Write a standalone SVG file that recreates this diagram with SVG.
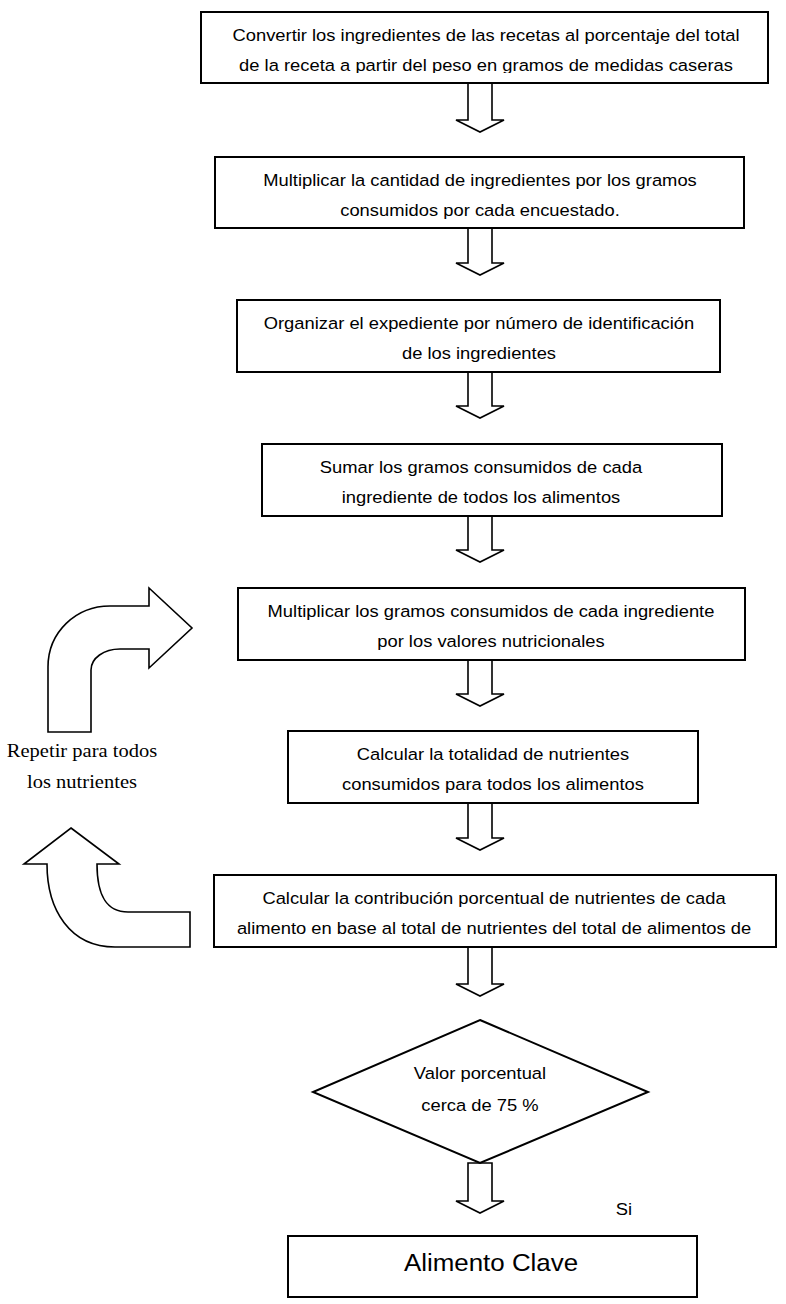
<svg xmlns="http://www.w3.org/2000/svg" width="786" height="1304" viewBox="0 0 786 1304">
<style>
.box{fill:#fff;stroke:#000;stroke-width:2}
.arr{fill:#fff;stroke:#000;stroke-width:1.6;stroke-linejoin:miter}
.t{font-family:"Liberation Sans",Arial,sans-serif;font-size:17px;fill:#000;text-anchor:middle}
.big{font-family:"Liberation Sans",Arial,sans-serif;font-size:24px;fill:#000;text-anchor:middle}
.serif{font-family:"Liberation Serif","Times New Roman",serif;font-size:19px;fill:#000;text-anchor:middle}
</style>
<defs>
<path id="down" d="M-12,0 L12,0 L12,-12 L24,-12 L0,0 Z"/>
<clipPath id="c1"><rect x="201" y="12" width="567" height="61"/></clipPath>
<clipPath id="c3"><rect x="237" y="300" width="483" height="62"/></clipPath>
<clipPath id="c4"><rect x="262" y="444" width="460" height="62"/></clipPath>
<clipPath id="c6"><rect x="288" y="731" width="410" height="62"/></clipPath>
</defs>

<g id="connectors">
<path class="arr" d="M468,83 L492,83 L492,120 L504,120 L480,132 L456,120 L468,120 Z"/>
<path class="arr" d="M468,228 L492,228 L492,263 L504,263 L480,275 L456,263 L468,263 Z"/>
<path class="arr" d="M468,372 L492,372 L492,406 L504,406 L480,418 L456,406 L468,406 Z"/>
<path class="arr" d="M468,516 L492,516 L492,550 L504,550 L480,562 L456,550 L468,550 Z"/>
<path class="arr" d="M468,660 L492,660 L492,694 L504,694 L480,706 L456,694 L468,694 Z"/>
<path class="arr" d="M468,803 L492,803 L492,838 L504,838 L480,850 L456,838 L468,838 Z"/>
<path class="arr" d="M468,947 L492,947 L492,984 L504,984 L480,996 L456,984 L468,984 Z"/>
<path class="arr" d="M468,1163 L492,1163 L492,1201 L504,1201 L480,1213 L456,1201 L468,1201 Z"/>
<path class="arr" d="M48,732 L48,667 C48,632 76,606 110,606 L149,606 L149,588 L192,628 L149,668 L149,649 L120,649 C104,649 91,658 91,670 L91,732 Z"/>
<path class="arr" d="M71,828 L119,864 L97,864 C97,895 106,912 128,912 L190,912 L190,947 L115,947 C70,947 47,910 47,864 L24,864 Z"/>
</g>

<g id="n1">
<rect class="box" x="201" y="12" width="567" height="71"/>
<g clip-path="url(#c1)">
<text class="t" transform="translate(486,41) scale(1.08,1)">Convertir los ingredientes de las recetas al porcentaje del total</text>
<text class="t" transform="translate(486,71) scale(1.08,1)">de la receta a partir del peso en gramos de medidas caseras</text>
</g>
</g>

<g id="n2">
<rect class="box" x="215" y="157" width="529" height="71"/>
<text class="t" transform="translate(480,186) scale(1.08,1)">Multiplicar la cantidad de ingredientes por los gramos</text>
<text class="t" transform="translate(480,216) scale(1.08,1)">consumidos por cada encuestado.</text>
</g>

<g id="n3">
<rect class="box" x="237" y="300" width="483" height="72"/>
<g clip-path="url(#c3)">
<text class="t" transform="translate(479,329) scale(1.08,1)">Organizar el expediente por número de identificación</text>
<text class="t" transform="translate(479,359) scale(1.08,1)">de los ingredientes</text>
</g>
</g>

<g id="n4">
<rect class="box" x="262" y="444" width="460" height="72"/>
<g clip-path="url(#c4)">
<text class="t" transform="translate(481,473) scale(1.08,1)">Sumar los gramos consumidos de cada</text>
<text class="t" transform="translate(481,503) scale(1.08,1)">ingrediente de todos los alimentos</text>
</g>
</g>

<g id="n5">
<rect class="box" x="238" y="588" width="507" height="72"/>
<text class="t" transform="translate(491,617) scale(1.08,1)">Multiplicar los gramos consumidos de cada ingrediente</text>
<text class="t" transform="translate(491,647) scale(1.08,1)">por los valores nutricionales</text>
</g>

<g id="n6">
<rect class="box" x="288" y="731" width="410" height="72"/>
<g clip-path="url(#c6)">
<text class="t" transform="translate(493,760) scale(1.08,1)">Calcular la totalidad de nutrientes</text>
<text class="t" transform="translate(493,790) scale(1.08,1)">consumidos para todos los alimentos</text>
</g>
</g>

<g id="n7">
<rect class="box" x="214" y="875" width="562" height="72"/>
<text class="t" transform="translate(494,904) scale(1.08,1)">Calcular la contribución porcentual de nutrientes de cada</text>
<text class="t" transform="translate(494,934) scale(1.08,1)">alimento en base al total de nutrientes del total de alimentos de</text>
</g>

<g id="n8">
<path class="box" d="M480,1020 L648,1092 L480,1163 L313,1092 Z"/>
<text class="t" transform="translate(480,1079) scale(1.08,1)">Valor porcentual</text>
<text class="t" transform="translate(480,1111) scale(1.08,1)">cerca de 75 %</text>
</g>

<g id="n9">
<rect class="box" x="288" y="1236" width="409" height="61"/>
<text class="big" transform="translate(491,1271) scale(1.08,1)">Alimento Clave</text>
</g>

<g id="labels">
<text class="t" transform="translate(624,1215) scale(1.08,1)">Si</text>
<text class="serif" transform="translate(82,757) scale(1.08,1)">Repetir para todos</text>
<text class="serif" transform="translate(82,788) scale(1.08,1)">los nutrientes</text>
</g>
</svg>
